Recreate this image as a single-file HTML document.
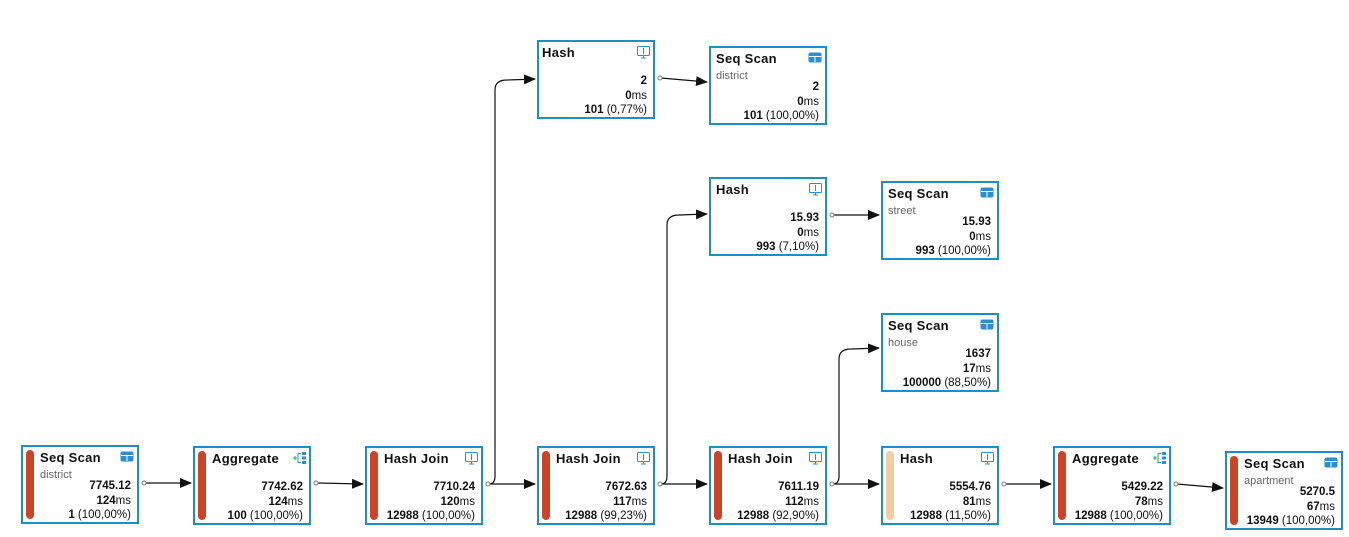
<!DOCTYPE html>
<html><head><meta charset="utf-8"><style>
body{margin:0;width:1349px;height:537px;background:#fff;position:relative;overflow:hidden;font-family:"Liberation Sans",Arial,sans-serif;}
.b{position:absolute;width:114px;height:75px;border:2px solid #1d8fc6;background:#fff;}
.bar{position:absolute;left:3px;top:3px;bottom:3px;width:8px;border-radius:4px;background:#cc4427;}
.t{position:absolute;top:3px;font-weight:bold;font-size:13px;color:#111;letter-spacing:0.3px;}
.s{position:absolute;top:22px;font-size:11px;color:#666;}
.n{position:absolute;right:6px;top:32px;text-align:right;font-size:11.5px;line-height:14.5px;color:#111;}
.n b{font-weight:bold}
.ic{position:absolute;right:3px;top:4px;}
</style></head><body>
<svg width="1349" height="537" style="position:absolute;left:0;top:0">
<defs><marker id="a" markerWidth="12" markerHeight="10" refX="11" refY="5" orient="auto" markerUnits="userSpaceOnUse"><path d="M0,0 L12,5 L0,10z" fill="#111"/></marker></defs>
<g stroke="#111" stroke-width="1.2" fill="none">
<path d="M145,483 L191,483" marker-end="url(#a)"/>
<path d="M317,483 L363,484" marker-end="url(#a)"/>
<path d="M489,484 L535,484" marker-end="url(#a)"/>
<path d="M489,484 Q495,484 495,476 L495,90 Q495,80 507,80 L535,79" marker-end="url(#a)"/>
<path d="M661,484 L707,484" marker-end="url(#a)"/>
<path d="M661,484 Q667,484 667,476 L667,225 Q667,215 679,215 L707,214" marker-end="url(#a)"/>
<path d="M833,484 L879,484" marker-end="url(#a)"/>
<path d="M833,484 Q839,484 839,476 L839,359 Q839,349 851,349 L879,348" marker-end="url(#a)"/>
<path d="M1005,484 L1051,484" marker-end="url(#a)"/>
<path d="M1177,484 L1223,488" marker-end="url(#a)"/>
<path d="M661,78 L707,82" marker-end="url(#a)"/>
<path d="M833,215 L879,215" marker-end="url(#a)"/>
</g>
<g fill="#fff" stroke="#777" stroke-width="1">
<circle cx="144" cy="483" r="2"/><circle cx="316" cy="483" r="2"/><circle cx="488" cy="484" r="2"/>
<circle cx="660" cy="484" r="2"/><circle cx="832" cy="484" r="2"/><circle cx="1004" cy="484" r="2"/>
<circle cx="1176" cy="484" r="2"/><circle cx="660" cy="78" r="2"/><circle cx="832" cy="215" r="2"/>
</g>
</svg>

<div class="b" style="left:21px;top:445px"><div class="bar"></div><div class="t" style="left:17px">Seq Scan</div><div class="s" style="left:17px">district</div><div class="n"><b>7745.12</b><br><b>124</b>ms<br><b>1</b> (100,00%)</div>
<svg class="ic" width="14" height="11"><rect x="0.5" y="0.5" width="13" height="10" rx="2" fill="#2a8fd0"/><path d="M1,4.5H13M7,4.5V10" stroke="#fff"/></svg></div>

<div class="b" style="left:193px;top:446px"><div class="bar"></div><div class="t" style="left:17px">Aggregate</div><div class="n"><b>7742.62</b><br><b>124</b>ms<br><b>100</b> (100,00%)</div>
<svg class="ic" width="14" height="12"><path d="M1,6H5M3,4V8" stroke="#2aa56a"/><rect x="10" y="0" width="4" height="3" fill="#2a8fd0"/><rect x="10" y="4.5" width="4" height="3" fill="#2a8fd0"/><rect x="10" y="9" width="4" height="3" fill="#2a8fd0"/><path d="M6,1.5H9M6,1.5V10.5H9" stroke="#2a8fd0" fill="none"/></svg></div>

<div class="b" style="left:365px;top:446px"><div class="bar"></div><div class="t" style="left:17px">Hash Join</div><div class="n"><b>7710.24</b><br><b>120</b>ms<br><b>12988</b> (100,00%)</div>
<svg class="ic" width="13" height="13"><rect x="0.5" y="0.5" width="12" height="9" rx="1" fill="none" stroke="#2a8fd0"/><path d="M6.5,2V8M4,12H9M6.5,10V12" stroke="#2a8fd0"/></svg></div>

<div class="b" style="left:537px;top:446px"><div class="bar"></div><div class="t" style="left:17px">Hash Join</div><div class="n"><b>7672.63</b><br><b>117</b>ms<br><b>12988</b> (99,23%)</div>
<svg class="ic" width="13" height="13"><rect x="0.5" y="0.5" width="12" height="9" rx="1" fill="none" stroke="#2a8fd0"/><path d="M6.5,2V8M4,12H9M6.5,10V12" stroke="#2a8fd0"/></svg></div>

<div class="b" style="left:709px;top:446px"><div class="bar"></div><div class="t" style="left:17px">Hash Join</div><div class="n"><b>7611.19</b><br><b>112</b>ms<br><b>12988</b> (92,90%)</div>
<svg class="ic" width="13" height="13"><rect x="0.5" y="0.5" width="12" height="9" rx="1" fill="none" stroke="#2a8fd0"/><path d="M6.5,2V8M4,12H9M6.5,10V12" stroke="#2a8fd0"/></svg></div>

<div class="b" style="left:881px;top:446px"><div class="bar" style="background:#f2cda2"></div><div class="t" style="left:17px">Hash</div><div class="n"><b>5554.76</b><br><b>81</b>ms<br><b>12988</b> (11,50%)</div>
<svg class="ic" width="13" height="13"><rect x="0.5" y="0.5" width="12" height="9" rx="1" fill="none" stroke="#2a8fd0"/><path d="M6.5,2V8M4,12H9M6.5,10V12" stroke="#2a8fd0"/></svg></div>

<div class="b" style="left:1053px;top:446px"><div class="bar"></div><div class="t" style="left:17px">Aggregate</div><div class="n"><b>5429.22</b><br><b>78</b>ms<br><b>12988</b> (100,00%)</div>
<svg class="ic" width="14" height="12"><path d="M1,6H5M3,4V8" stroke="#2aa56a"/><rect x="10" y="0" width="4" height="3" fill="#2a8fd0"/><rect x="10" y="4.5" width="4" height="3" fill="#2a8fd0"/><rect x="10" y="9" width="4" height="3" fill="#2a8fd0"/><path d="M6,1.5H9M6,1.5V10.5H9" stroke="#2a8fd0" fill="none"/></svg></div>

<div class="b" style="left:1225px;top:451px"><div class="bar"></div><div class="t" style="left:17px">Seq Scan</div><div class="s" style="left:17px">apartment</div><div class="n"><b>5270.5</b><br><b>67</b>ms<br><b>13949</b> (100,00%)</div>
<svg class="ic" width="14" height="11"><rect x="0.5" y="0.5" width="13" height="10" rx="2" fill="#2a8fd0"/><path d="M1,4.5H13M7,4.5V10" stroke="#fff"/></svg></div>

<div class="b" style="left:537px;top:40px"><div class="t" style="left:3px">Hash</div><div class="n"><b>2</b><br><b>0</b>ms<br><b>101</b> (0,77%)</div>
<svg class="ic" width="13" height="13"><rect x="0.5" y="0.5" width="12" height="9" rx="1" fill="none" stroke="#2a8fd0"/><path d="M6.5,2V8M4,12H9M6.5,10V12" stroke="#2a8fd0"/></svg></div>

<div class="b" style="left:709px;top:46px"><div class="t" style="left:5px">Seq Scan</div><div class="s" style="left:5px">district</div><div class="n"><b>2</b><br><b>0</b>ms<br><b>101</b> (100,00%)</div>
<svg class="ic" width="14" height="11"><rect x="0.5" y="0.5" width="13" height="10" rx="2" fill="#2a8fd0"/><path d="M1,4.5H13M7,4.5V10" stroke="#fff"/></svg></div>

<div class="b" style="left:709px;top:177px"><div class="t" style="left:5px">Hash</div><div class="n"><b>15.93</b><br><b>0</b>ms<br><b>993</b> (7,10%)</div>
<svg class="ic" width="13" height="13"><rect x="0.5" y="0.5" width="12" height="9" rx="1" fill="none" stroke="#2a8fd0"/><path d="M6.5,2V8M4,12H9M6.5,10V12" stroke="#2a8fd0"/></svg></div>

<div class="b" style="left:881px;top:181px"><div class="t" style="left:5px">Seq Scan</div><div class="s" style="left:5px">street</div><div class="n"><b>15.93</b><br><b>0</b>ms<br><b>993</b> (100,00%)</div>
<svg class="ic" width="14" height="11"><rect x="0.5" y="0.5" width="13" height="10" rx="2" fill="#2a8fd0"/><path d="M1,4.5H13M7,4.5V10" stroke="#fff"/></svg></div>

<div class="b" style="left:881px;top:313px"><div class="t" style="left:5px">Seq Scan</div><div class="s" style="left:5px">house</div><div class="n"><b>1637</b><br><b>17</b>ms<br><b>100000</b> (88,50%)</div>
<svg class="ic" width="14" height="11"><rect x="0.5" y="0.5" width="13" height="10" rx="2" fill="#2a8fd0"/><path d="M1,4.5H13M7,4.5V10" stroke="#fff"/></svg></div>
</body></html>
